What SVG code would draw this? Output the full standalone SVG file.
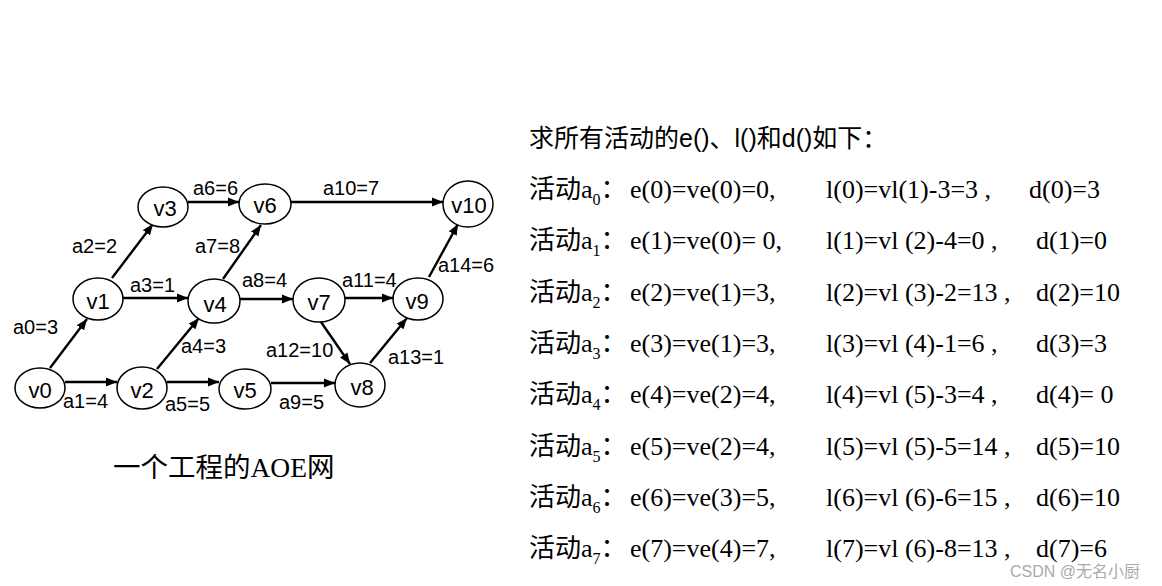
<svg xmlns="http://www.w3.org/2000/svg" width="1162" height="586" viewBox="0 0 1162 586">
<style>
.n ellipse{fill:#fff;stroke:#000;stroke-width:1.5}
.n text{font-family:"Liberation Sans",Arial,sans-serif;font-size:22px;fill:#000;text-anchor:middle}
.e line{stroke:#000;stroke-width:2.4}
.el{font-family:"Liberation Sans",Arial,sans-serif;font-size:20px;fill:#000}
.t{font-family:"Liberation Serif","Noto Sans CJK SC",serif;font-size:26px;fill:#000}
.sub{font-size:16px}
.ttl{font-family:"Liberation Sans","Noto Sans CJK SC",sans-serif;font-size:25px;fill:#000}
</style>
<defs>
<marker id="ah" markerUnits="userSpaceOnUse" markerWidth="12" markerHeight="10" refX="11" refY="5" orient="auto">
<path d="M0,0.5 L11,5 L0,9.5 Z" fill="#000"/>
</marker>
</defs>
<rect width="1162" height="586" fill="#fff"/>
<g id="connectors" class="e">
<line x1="50" y1="368" x2="87" y2="319" marker-end="url(#ah)"/>
<line x1="65" y1="382" x2="117" y2="382" marker-end="url(#ah)"/>
<line x1="112" y1="278" x2="153" y2="224" marker-end="url(#ah)"/>
<line x1="123" y1="298" x2="188" y2="298" marker-end="url(#ah)"/>
<line x1="157" y1="369" x2="199" y2="318" marker-end="url(#ah)"/>
<line x1="167" y1="382" x2="219" y2="382" marker-end="url(#ah)"/>
<line x1="188" y1="202" x2="239" y2="202" marker-end="url(#ah)"/>
<line x1="223" y1="279" x2="261" y2="225" marker-end="url(#ah)"/>
<line x1="240" y1="299" x2="293" y2="299" marker-end="url(#ah)"/>
<line x1="271" y1="383" x2="335" y2="383" marker-end="url(#ah)"/>
<line x1="291" y1="202" x2="443" y2="202" marker-end="url(#ah)"/>
<line x1="345" y1="298" x2="393" y2="298" marker-end="url(#ah)"/>
<line x1="321" y1="322" x2="350" y2="364" marker-end="url(#ah)"/>
<line x1="370" y1="363" x2="407" y2="318" marker-end="url(#ah)"/>
<line x1="429" y1="277" x2="458" y2="224" marker-end="url(#ah)"/>
</g>
<g id="edge-labels">
<text class="el" x="13" y="334">a0=3</text>
<text class="el" x="63" y="408">a1=4</text>
<text class="el" x="72" y="253">a2=2</text>
<text class="el" x="130" y="292">a3=1</text>
<text class="el" x="181" y="353">a4=3</text>
<text class="el" x="165" y="411">a5=5</text>
<text class="el" x="193" y="195">a6=6</text>
<text class="el" x="195" y="253">a7=8</text>
<text class="el" x="242" y="287">a8=4</text>
<text class="el" x="279" y="409">a9=5</text>
<text class="el" x="323" y="195">a10=7</text>
<text class="el" x="342" y="287">a11=4</text>
<text class="el" x="266" y="357">a12=10</text>
<text class="el" x="388" y="364">a13=1</text>
<text class="el" x="438" y="272">a14=6</text>
</g>
<g id="v0" class="n"><ellipse cx="40" cy="388" rx="25" ry="20"/><text x="40" y="398">v0</text></g>
<g id="v1" class="n"><ellipse cx="98" cy="299" rx="25" ry="21"/><text x="98" y="309">v1</text></g>
<g id="v2" class="n"><ellipse cx="142" cy="388" rx="25" ry="21"/><text x="142" y="398">v2</text></g>
<g id="v3" class="n"><ellipse cx="163" cy="207" rx="25" ry="20"/><text x="165" y="216">v3</text></g>
<g id="v4" class="n"><ellipse cx="214" cy="301" rx="26" ry="22"/><text x="215" y="312">v4</text></g>
<g id="v5" class="n"><ellipse cx="245" cy="389" rx="26" ry="20"/><text x="245" y="398">v5</text></g>
<g id="v6" class="n"><ellipse cx="265" cy="204" rx="26" ry="20"/><text x="265" y="213">v6</text></g>
<g id="v7" class="n"><ellipse cx="319" cy="300" rx="26" ry="22"/><text x="319" y="310">v7</text></g>
<g id="v8" class="n"><ellipse cx="360" cy="385" rx="25" ry="22"/><text x="362" y="395">v8</text></g>
<g id="v9" class="n"><ellipse cx="418" cy="299" rx="25" ry="21"/><text x="417" y="309">v9</text></g>
<g id="v10" class="n"><ellipse cx="468" cy="204" rx="25" ry="23"/><text x="469" y="213">v10</text></g>
<text class="t" x="113" y="477" style="font-size:27.5px">一个工程的AOE网</text>
<text class="ttl" x="529" y="147">求所有活动的e()、l()和d()如下：</text>
<g id="rows" class="t">
<text x="529" y="198">活动a<tspan class="sub" dy="7">0</tspan><tspan dy="-7">：</tspan></text>
<text x="630" y="198">e(0)=ve(0)=0,</text><text x="826" y="198">l(0)=vl(1)-3=3 ,</text><text x="1029" y="198">d(0)=3</text>
<text x="529" y="249">活动a<tspan class="sub" dy="7">1</tspan><tspan dy="-7">：</tspan></text>
<text x="630" y="249">e(1)=ve(0)= 0,</text><text x="826" y="249">l(1)=vl (2)-4=0 ,</text><text x="1036" y="249">d(1)=0</text>
<text x="529" y="301">活动a<tspan class="sub" dy="7">2</tspan><tspan dy="-7">：</tspan></text>
<text x="630" y="301">e(2)=ve(1)=3,</text><text x="826" y="301">l(2)=vl (3)-2=13 ,</text><text x="1036" y="301">d(2)=10</text>
<text x="529" y="352">活动a<tspan class="sub" dy="7">3</tspan><tspan dy="-7">：</tspan></text>
<text x="630" y="352">e(3)=ve(1)=3,</text><text x="826" y="352">l(3)=vl (4)-1=6 ,</text><text x="1036" y="352">d(3)=3</text>
<text x="529" y="403">活动a<tspan class="sub" dy="7">4</tspan><tspan dy="-7">：</tspan></text>
<text x="630" y="403">e(4)=ve(2)=4,</text><text x="826" y="403">l(4)=vl (5)-3=4 ,</text><text x="1036" y="403">d(4)= 0</text>
<text x="529" y="455">活动a<tspan class="sub" dy="7">5</tspan><tspan dy="-7">：</tspan></text>
<text x="630" y="455">e(5)=ve(2)=4,</text><text x="826" y="455">l(5)=vl (5)-5=14 ,</text><text x="1036" y="455">d(5)=10</text>
<text x="529" y="506">活动a<tspan class="sub" dy="7">6</tspan><tspan dy="-7">：</tspan></text>
<text x="630" y="506">e(6)=ve(3)=5,</text><text x="826" y="506">l(6)=vl (6)-6=15 ,</text><text x="1036" y="506">d(6)=10</text>
<text x="529" y="557">活动a<tspan class="sub" dy="7">7</tspan><tspan dy="-7">：</tspan></text>
<text x="630" y="557">e(7)=ve(4)=7,</text><text x="826" y="557">l(7)=vl (6)-8=13 ,</text><text x="1036" y="557">d(7)=6</text>
</g>
<text x="1010" y="577" style="font-family:'Liberation Sans','Noto Sans CJK SC',sans-serif;font-size:16px;fill:#aaa">CSDN @无名小厨</text>
</svg>
